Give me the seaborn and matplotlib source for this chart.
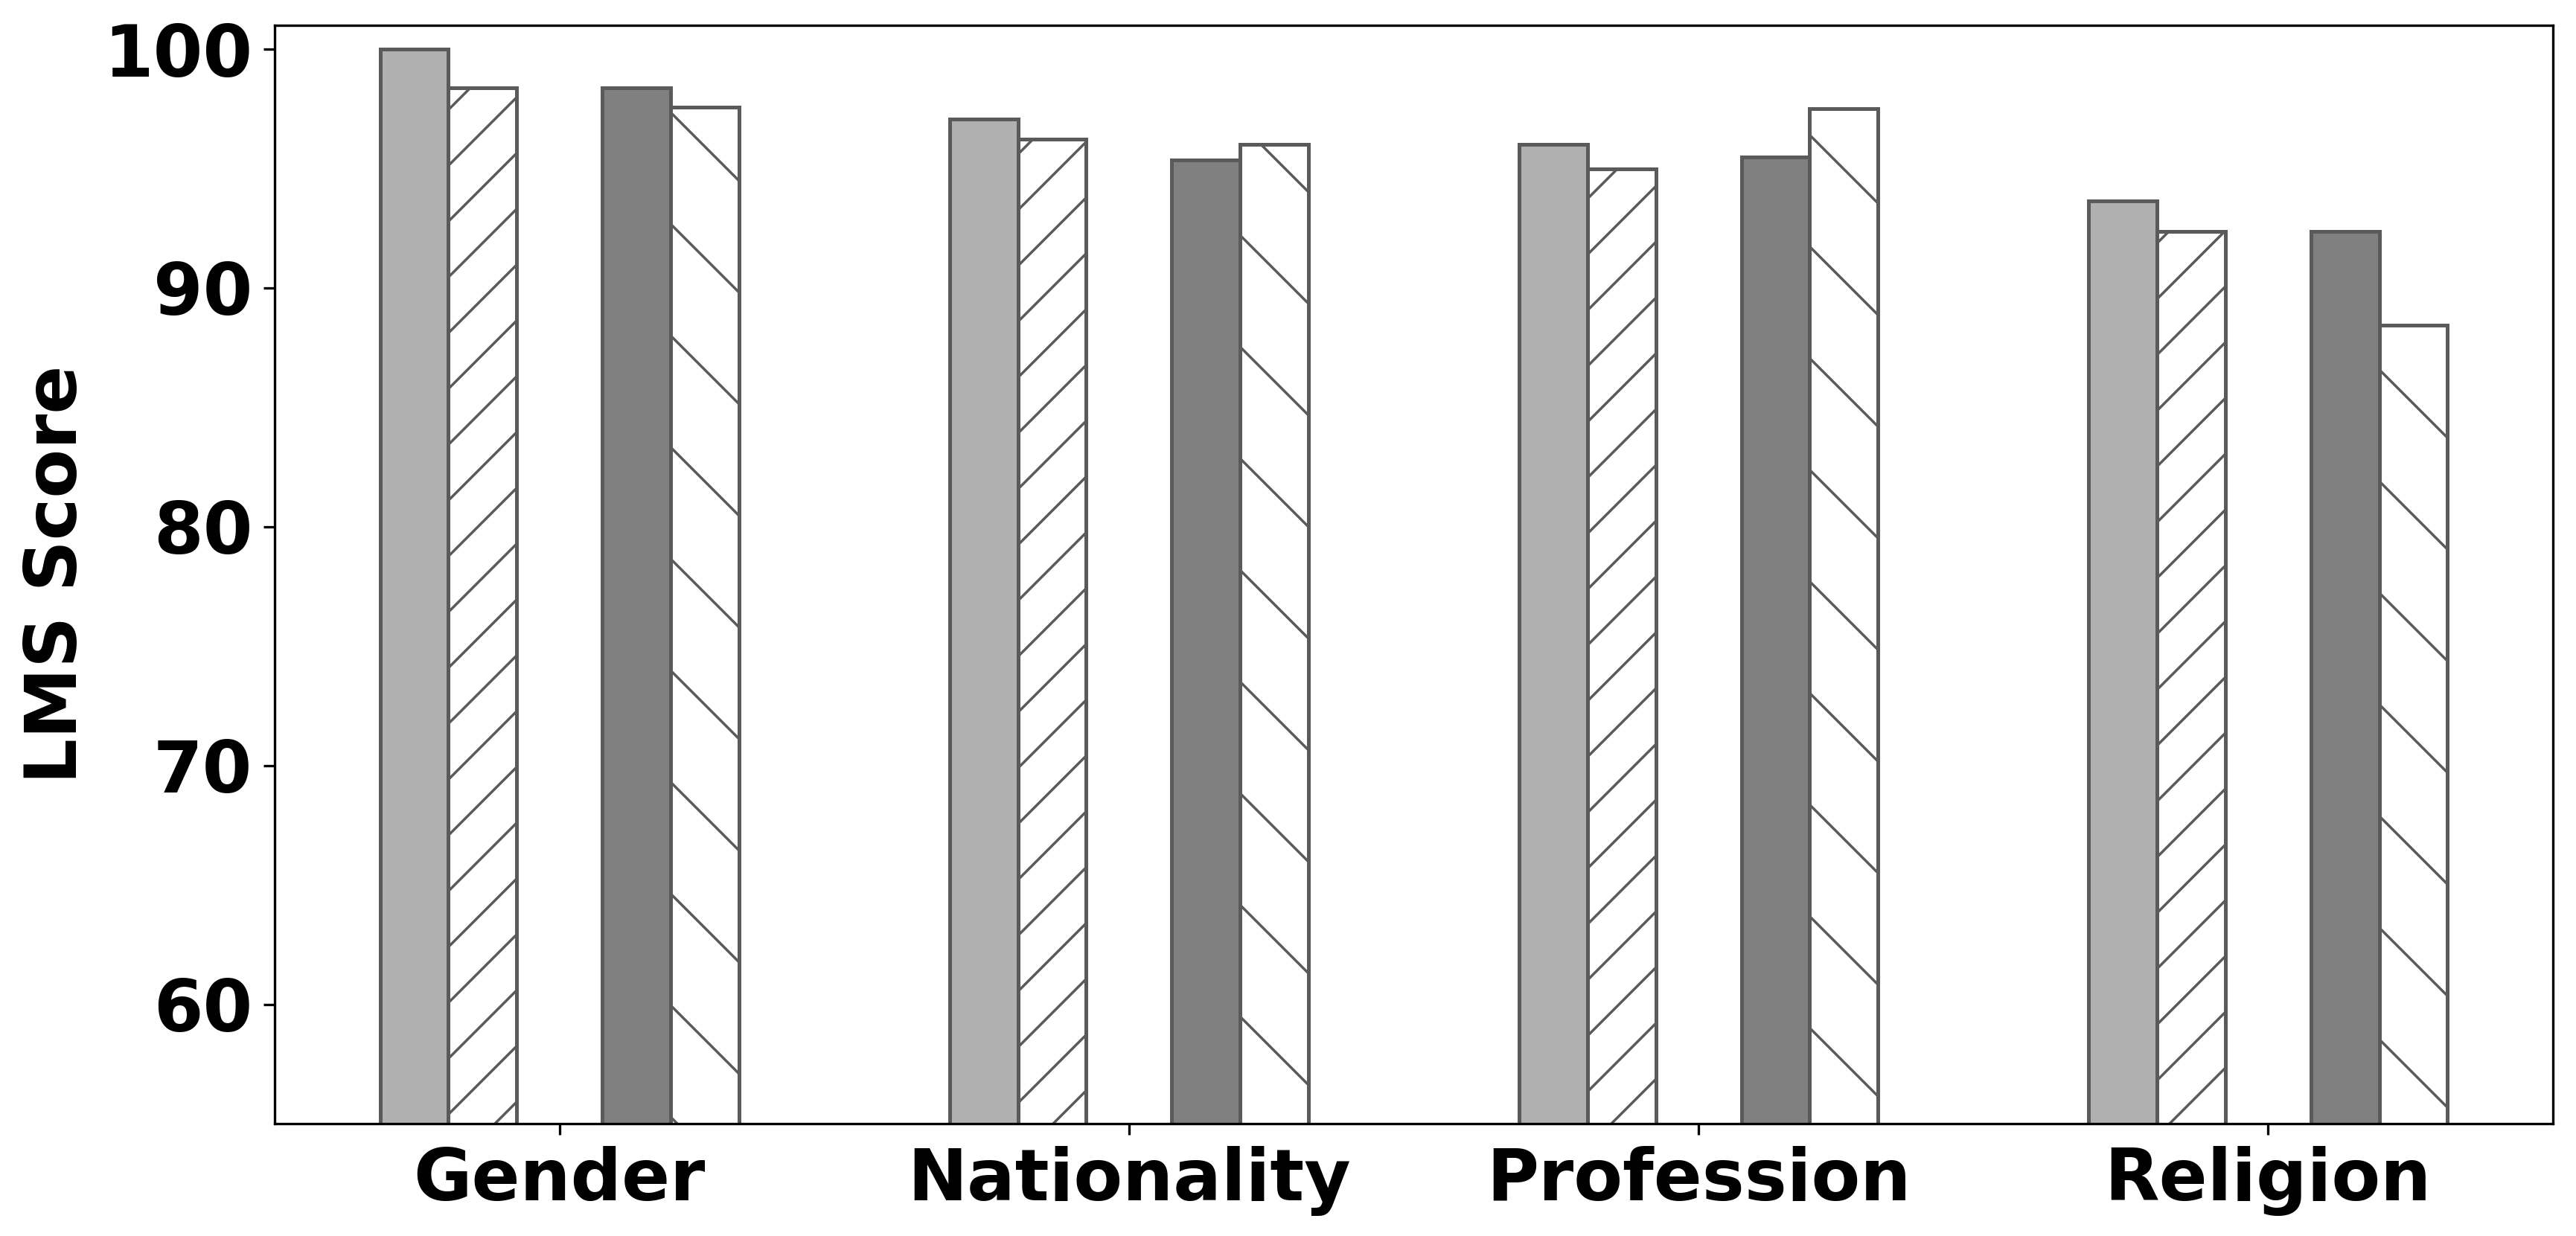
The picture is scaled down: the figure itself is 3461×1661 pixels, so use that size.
import numpy as np
import pandas as pd
import matplotlib
matplotlib.use("Agg")
import matplotlib.pyplot as plt
import seaborn as sns

# ---- data ----
categories = ["Gender", "Nationality", "Profession", "Religion"]
series_a = [100.0, 97.08, 96.01, 93.65]   # light gray, solid
series_b = [98.37, 96.22, 94.97, 92.36]   # white, '/' hatch
series_c = [98.37, 95.37, 95.49, 92.36]   # dark gray, solid
series_d = [97.56, 96.01, 97.52, 88.44]   # white, '\' hatch
yticks = [60, 70, 80, 90, 100]

# ---- style ----
W, H, DPI = 3461, 1661, 450
PX = 72.0 / DPI          # points per output pixel

sns.set_style("ticks")
plt.rcParams["font.family"] = ["DejaVu Sans"]
plt.rcParams["hatch.linewidth"] = 3.5 * PX
plt.rcParams["text.color"] = "black"
plt.rcParams["axes.labelcolor"] = "black"

FS = 95.8 * PX
fig, ax = plt.subplots(figsize=(W / DPI, H / DPI), dpi=DPI)
fig.subplots_adjust(left=369 / W, right=3430 / W, top=1 - 34 / H, bottom=1 - 1510 / H)

bar_w = 0.12
inner_gap = 0.075
offsets = [-(inner_gap + 1.5 * bar_w), -(inner_gap + 0.5 * bar_w),
           inner_gap + 0.5 * bar_w, inner_gap + 1.5 * bar_w]
styles = [
    dict(color="#b0b0b0", hatch=None),
    dict(color="#ffffff", hatch="//"),
    dict(color="#808080", hatch=None),
    dict(color="#ffffff", hatch="\\"),
]
edge = "#5a5a5a"
base = np.arange(len(categories))
for vals, off, st in zip([series_a, series_b, series_c, series_d], offsets, styles):
    df = pd.DataFrame({"pos": base + off, "score": vals})
    kw = {}
    if st["hatch"]:
        kw["hatch"] = st["hatch"]
    sns.barplot(data=df, x="pos", y="score", native_scale=True, width=bar_w,
                color=st["color"], saturation=1, edgecolor=edge, linewidth=5 * PX,
                errorbar=None, ax=ax, **kw)

ax.set_xlim(-0.5, len(categories) - 0.5)
ax.set_ylim(55, 101)
ax.set_xticks(base)
ax.set_xticklabels(categories, fontsize=FS, fontweight="bold", color="black")
ax.set_yticks(yticks)
ax.set_yticklabels([str(v) for v in yticks], fontsize=FS, fontweight="bold", color="black")
ax.set_xlabel("")
ax.set_ylabel("LMS Score", fontsize=FS, fontweight="bold", color="black", labelpad=16.7 * PX)
for s in ax.spines.values():
    s.set_visible(True)
    s.set_color("black")
    s.set_linewidth(3.3 * PX)
ax.tick_params(colors="black", direction="out", length=15 * PX, width=3.3 * PX, pad=14.6 * PX)

fig.savefig("out.png", dpi=DPI)
